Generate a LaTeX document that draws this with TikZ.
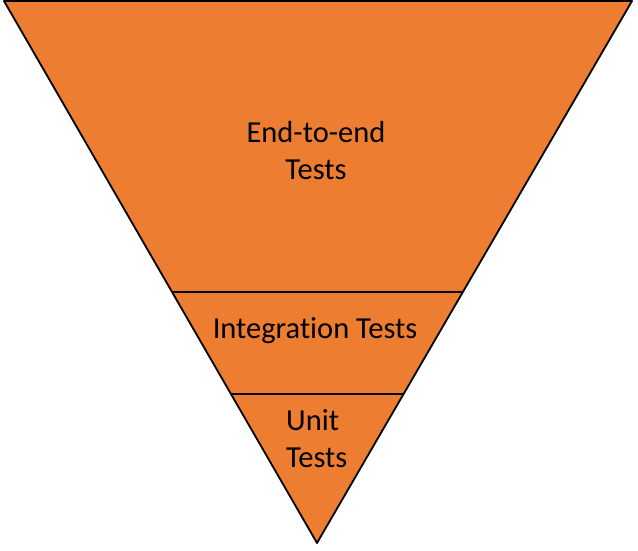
\documentclass[tikz,border=0pt]{standalone}
\usepackage{fontspec}
\setmainfont[Ligatures=NoCommon]{Carlito}
\definecolor{tri}{HTML}{ED7D31}
\begin{document}
\begin{tikzpicture}[x=1pt,y=-1pt,
  lbl/.style={font=\fontsize{30.5}{37}\selectfont, align=center, text=black, inner sep=0pt},
  edge/.style={draw=black, line width=1.8pt, line join=round}]
\useasboundingbox (0,0) rectangle (638,550);
\coordinate (tl) at (4,1);
\coordinate (tr) at (632,1);
\coordinate (ap) at (317,543);
\fill[tri] (tl) -- (tr) -- (ap) -- cycle;
\coordinate (a1) at (172,292);
\coordinate (b1) at (462,292);
\coordinate (a2) at (231,394);
\coordinate (b2) at (403,394);
\draw[edge] (a1) -- (b1);
\draw[edge] (a2) -- (b2);
\draw[edge] (tl) -- (tr) -- (ap) -- cycle;
\node[lbl] (e2e) at (316,150.5) {End-to-end\\Tests};
\node[lbl] (int) at (315,331) {Integration Tests};
\node[lbl, align=left, anchor=west] (unit) at (286,438.5) {Unit\\Tests};
\end{tikzpicture}
\end{document}
